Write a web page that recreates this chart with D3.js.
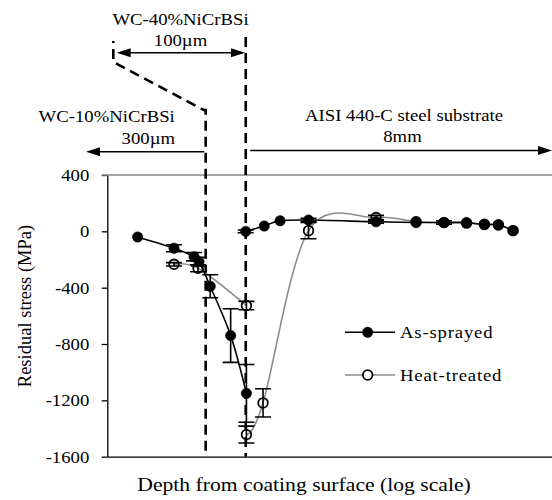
<!DOCTYPE html>
<html>
<head>
<meta charset="utf-8">
<script src="https://cdn.jsdelivr.net/npm/d3@7/dist/d3.min.js"></script>
<style>
  body { margin: 0; background: #fff; }
  svg text { font-family: "Liberation Serif", "Times New Roman", serif; fill: #000; }
</style>
</head>
<body>
<div class="chart"></div>
<script>
// y axis ticks (MPa)
const yTicks = [400, 0, -400, -800, -1200, -1600]
// layer boundaries (um): WC-10% | WC-40% | substrate
const layerBounds = [300, 400]

// as-sprayed, coating part
const asCoatDepth = [184, 239, 276, 286, 310, 359, 402]
const asCoatStress = [-40, -120, -180, -215, -390, -740, -1150]
const asCoatErr = [0, 25, 30, 30, 82, 190, 205]
// as-sprayed, substrate part
const asSubDepth = [400, 457, 512, 628, 1020, 1360, 1662, 1954, 2221, 2456, 2729]
const asSubStress = [0, 38, 75, 80, 68, 63, 63, 63, 47, 47, 5]
const asSubErr = [10, 0, 0, 12, 10, 0, 12, 0, 0, 0, 0]

// heat-treated, coating part
const htCoatDepth = [239, 284, 402]
const htCoatStress = [-234, -262, -527]
const htCoatErr = [12, 25, 30]
// heat-treated, substrate part
const htSubDepth = [402, 453, 628, 1020, 1360, 1662, 1954, 2221, 2456, 2729]
const htSubStress = [-1443, -1218, 5, 98, 68, 62, 58, 50, 45, 5]
const htSubErr = [60, 100, 58, 15, 0, 0, 0, 0, 0, 0]

let width = 552, height = 500
let stretch = 1.17

let svg = d3.select(".chart")
  .append("svg")
  .attr("width", width)
  .attr("height", height)

let x = d3.scaleLog().domain([148, 3610]).range([107.3, 552])
let y = d3.scaleLinear().domain([-1600, 400]).range([456.7, 175])

// text a bit wider than normal, like the original
function label(px, py, str, size, anchor, spacing) {
  return svg.append("text")
    .attr("transform", `translate(${px},${py}) scale(${stretch},1)`)
    .attr("text-anchor", anchor || "middle")
    .attr("font-size", size)
    .attr("letter-spacing", spacing || 0)
    .text(str)
}

function arrowHead(tx, ty, dir) {
  let len = 14, hw = 4.5
  svg.append("path")
    .attr("d", `M${tx},${ty}L${tx - dir * len},${ty - hw}L${tx - dir * len},${ty + hw}Z`)
    .attr("fill", "#000")
}

// axes
let yAxis = svg.append("g")
  .attr("transform", `translate(${x.range()[0]},0)`)
  .call(d3.axisLeft(y).tickValues(yTicks).tickSize(5.6).tickSizeOuter(0).tickFormat(d => String(d)))
yAxis.select(".domain").attr("stroke", "#000").attr("stroke-width", 1.3)
yAxis.selectAll(".tick line").attr("stroke", "#000").attr("stroke-width", 1.3)
yAxis.selectAll(".tick text")
  .attr("font-family", "Liberation Serif")
  .attr("font-size", 16)
  .attr("x", 0)
  .attr("dy", "0.34em")
  .attr("transform", `translate(-18,0) scale(${stretch},1)`)

svg.append("g")
  .attr("transform", `translate(0,${y(-1600)})`)
  .call(d3.axisBottom(x).tickValues([]).tickSizeOuter(0))
  .select(".domain").attr("stroke", "#000").attr("stroke-width", 1.3)

svg.append("line")
  .attr("x1", x.range()[0] - 5.6).attr("x2", width)
  .attr("y1", y(400)).attr("y2", y(400))
  .attr("stroke", "#868686").attr("stroke-width", 1.5)

// axis titles
label(304, 491, "Depth from coating surface (log scale)", 18.5)
svg.append("text")
  .attr("transform", `translate(31,306) rotate(-90)`)
  .attr("text-anchor", "middle")
  .attr("font-size", 18.5)
  .text("Residual stress (MPa)")

// layer boundaries, dashed
let dash = "10,6"
svg.append("path")
  .attr("d", `M113.3,41L113.3,62L${x(layerBounds[0]) - 2},110L${x(layerBounds[0])},110L${x(layerBounds[0])},${y(-1600)}`)
  .attr("fill", "none").attr("stroke", "#000").attr("stroke-width", 2.6)
  .attr("stroke-dasharray", dash)
  .attr("stroke-dashoffset", 8)
svg.append("line")
  .attr("x1", x(layerBounds[1])).attr("x2", x(layerBounds[1]))
  .attr("y1", 37).attr("y2", y(-1600))
  .attr("stroke", "#000").attr("stroke-width", 2.6)
  .attr("stroke-dasharray", dash)

// layer annotations
label(180.5, 25, "WC-40%NiCrBSi", 16)
label(180.5, 46, "100\u00b5m", 16)
svg.append("line").attr("x1", 120).attr("x2", x(layerBounds[1]) - 3)
  .attr("y1", 52.7).attr("y2", 52.7).attr("stroke", "#000").attr("stroke-width", 1.6)
arrowHead(116.7, 52.7, -1)
arrowHead(x(layerBounds[1]) - 0.7, 52.7, 1)

label(106.7, 122, "WC-10%NiCrBSi", 16)
label(148.3, 143.5, "300\u00b5m", 16)
svg.append("line").attr("x1", 90).attr("x2", x(layerBounds[0]) - 1.5)
  .attr("y1", 151.7).attr("y2", 151.7).attr("stroke", "#000").attr("stroke-width", 1.6)
arrowHead(86, 151.7, -1)

label(404, 121, "AISI 440-C steel substrate", 16)
label(402.5, 142, "8mm", 16)
svg.append("line").attr("x1", x(layerBounds[1]) + 4.5).attr("x2", width - 4)
  .attr("y1", 150.5).attr("y2", 150.5).attr("stroke", "#000").attr("stroke-width", 1.6)
arrowHead(width, 150.5, 1)

// series
function rows(depth, stress, err) {
  return depth.map((d, i) => ({ depth: d, stress: stress[i], err: err[i] }))
}
let line = d3.line()
  .x(d => x(d.depth))
  .y(d => y(d.stress))
  .curve(d3.curveCardinal.tension(0))

let series = [
  { parts: [rows(htCoatDepth, htCoatStress, htCoatErr), rows(htSubDepth, htSubStress, htSubErr)], color: "#8c8c8c", filled: false },
  { parts: [rows(asCoatDepth, asCoatStress, asCoatErr), rows(asSubDepth, asSubStress, asSubErr)], color: "#000", filled: true }
]

series.forEach(s => {
  let g = svg.append("g")
  s.parts.forEach(part => {
    g.append("path")
      .datum(part)
      .attr("d", line)
      .attr("fill", "none")
      .attr("stroke", s.color)
      .attr("stroke-width", 1.6)
  })
  let all = s.parts.flat()
  g.selectAll("circle")
    .data(all)
    .enter()
    .append("circle")
    .attr("cx", d => x(d.depth))
    .attr("cy", d => y(d.stress))
    .attr("r", s.filled ? 5.2 : 4.8)
    .attr("fill", s.filled ? "#000" : "none")
    .attr("stroke", "#000")
    .attr("stroke-width", s.filled ? 0.5 : 1.8)
  // error bars
  g.selectAll(".err")
    .data(all.filter(d => d.err > 0))
    .enter()
    .append("path")
    .attr("class", "err")
    .attr("d", d => {
      let cx = x(d.depth), y1 = y(d.stress + d.err), y2 = y(d.stress - d.err)
      return `M${cx},${y1}L${cx},${y2}M${cx - 8},${y1}L${cx + 8},${y1}M${cx - 8},${y2}L${cx + 8},${y2}`
    })
    .attr("fill", "none")
    .attr("stroke", "#000")
    .attr("stroke-width", 1.6)
})

// legend
let legend = [
  { name: "As-sprayed", color: "#000", filled: true, y: 332.3 },
  { name: "Heat-treated", color: "#8c8c8c", filled: false, y: 375 }
]
legend.forEach(l => {
  svg.append("line").attr("x1", 345).attr("x2", 395)
    .attr("y1", l.y).attr("y2", l.y)
    .attr("stroke", l.color).attr("stroke-width", 1.6)
  svg.append("circle").attr("cx", 367.7).attr("cy", l.y)
    .attr("r", l.filled ? 5.2 : 4.8)
    .attr("fill", l.filled ? "#000" : "#fff")
    .attr("stroke", "#000").attr("stroke-width", l.filled ? 0.5 : 1.8)
  label(400, l.y + 5.5, l.name, 16, "start", 0.7)
})
</script>
</body>
</html>
